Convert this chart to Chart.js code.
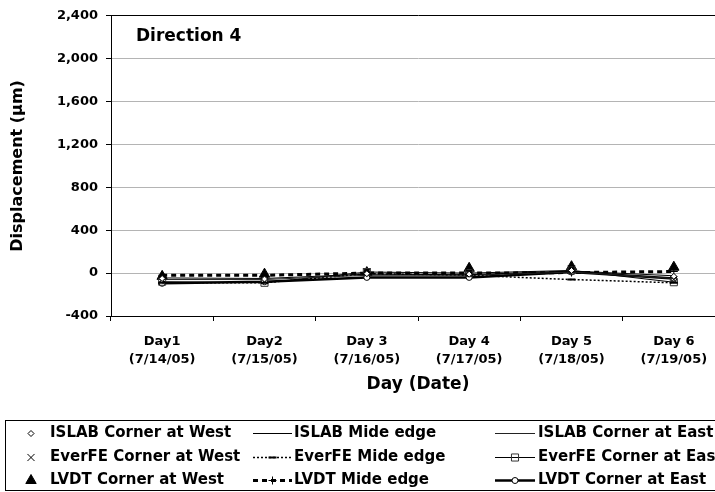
<!DOCTYPE html>
<html>
<head>
<meta charset="utf-8">
<script src="https://cdn.jsdelivr.net/npm/chart.js@4.4.1/dist/chart.umd.min.js"></script>
<style>
  html, body { margin: 0; padding: 0; background: #fff; overflow: hidden; }
  #wrap { width: 745px; height: 492px; }
</style>
</head>
<body>
<div id="wrap"><canvas id="dispChart" width="745" height="492"></canvas></div>
<script>
// categories
const days = [
    ["Day1", "(7/14/05)"],
    ["Day2", "(7/15/05)"],
    ["Day 3", "(7/16/05)"],
    ["Day 4", "(7/17/05)"],
    ["Day 5", "(7/18/05)"],
    ["Day 6", "(7/19/05)"]
];

// displacement in micrometres
const islabWest  = [-50, -55, -5, -10, 25, -30];
const islabMid   = [-45, -50, -10, -15, 20, -25];
const islabEast  = [-60, -60, -20, -20, 10, -50];
const everfeWest = [-65, -70, 10, 5, 40, -60];
const everfeMid  = [-90, -90, -5, -20, -60, -90];
const everfeEast = [-80, -90, 10, 0, 25, -85];
const lvdtWest   = [-30, -10, 5, 45, 60, 55];
const lvdtMid    = [-20, -20, 0, 0, 5, 15];
const lvdtEast   = [-95, -80, -40, -40, 10, -50];

const yTicks = [-400, 0, 400, 800, 1200, 1600, 2000, 2400];

const FONT = '"DejaVu Sans", "Liberation Sans", Arial, sans-serif';
Chart.defaults.font.family = FONT;
Chart.defaults.font.weight = 'bold';
Chart.defaults.color = '#000';

// legend: 3 rows (ISLAB, EverFE, LVDT) x 3 columns (West, Mide edge, East)
const legendRows = [433, 457, 480];
const legendCols = [
    { marker: 31, text: 50 },
    { lineFrom: 253, lineTo: 292, text: 294 },
    { lineFrom: 495, lineTo: 535, text: 538 }
];

const boxLegend = {
    id: 'boxLegend',
    afterDraw(chart) {
        const ctx = chart.ctx;
        ctx.save();
        ctx.strokeStyle = '#000';
        ctx.lineWidth = 1;
        ctx.strokeRect(5.5, 420.5, 760, 70);

        // "Direction 4" label inside the plot
        ctx.font = 'bold 17px ' + FONT;
        ctx.fillStyle = '#000';
        ctx.textAlign = 'left';
        ctx.textBaseline = 'middle';
        ctx.fillText('Direction 4', 136, 37);

        chart.data.datasets.forEach((ds, i) => {
            const y = legendRows[Math.floor(i / 3)];
            const col = legendCols[i % 3];
            let mx = col.marker;
            if (col.lineFrom !== undefined) {
                ctx.save();
                ctx.strokeStyle = ds.borderColor;
                ctx.lineWidth = ds.borderWidth;
                ctx.setLineDash(ds.borderDash || []);
                ctx.beginPath();
                ctx.moveTo(col.lineFrom, y + 0.5);
                ctx.lineTo(col.lineTo, y + 0.5);
                ctx.stroke();
                ctx.restore();
                mx = (col.lineFrom + col.lineTo) / 2;
            }
            if (ds.pointRadius > 0) {
                ctx.save();
                ctx.setLineDash([]);
                ctx.fillStyle = ds.pointBackgroundColor;
                ctx.strokeStyle = ds.pointBorderColor;
                ctx.lineWidth = ds.pointBorderWidth;
                Chart.helpers.drawPoint(ctx, {
                    pointStyle: ds.pointStyle,
                    radius: ds.pointRadius,
                    rotation: 0,
                    borderWidth: ds.pointBorderWidth
                }, mx, y + 0.5);
                ctx.restore();
            }
            ctx.font = 'bold 15px ' + FONT;
            ctx.fillStyle = '#000';
            ctx.fillText(ds.label, col.text, y);
        });
        ctx.restore();
    }
};

function series(label, data, style) {
    return Object.assign({
        label: label,
        data: data,
        borderColor: '#000',
        backgroundColor: '#000',
        borderWidth: 1,
        pointBorderColor: '#000',
        pointBackgroundColor: '#000',
        pointBorderWidth: 1,
        pointRadius: 0,
        pointStyle: 'circle',
        tension: 0,
        fill: false
    }, style);
}

const datasets = [
    series('ISLAB Corner at West', islabWest, { showLine: false, pointStyle: 'rectRot', pointRadius: 3, pointBackgroundColor: '#fff' }),
    series('ISLAB Mide edge', islabMid, { borderWidth: 1 }),
    series('ISLAB Corner at East', islabEast, { borderWidth: 1, borderColor: '#222' }),
    series('EverFE Corner at West', everfeWest, { showLine: false, pointStyle: 'crossRot', pointRadius: 5 }),
    series('EverFE Mide edge', everfeMid, { borderWidth: 1.5, borderDash: [2, 2], pointStyle: 'line', pointRadius: 4, pointBorderWidth: 2 }),
    series('EverFE Corner at East', everfeEast, { borderWidth: 1, pointStyle: 'rect', pointRadius: 5, pointBorderColor: '#333', pointBackgroundColor: 'rgba(0,0,0,0)' }),
    series('LVDT Corner at West', lvdtWest, { showLine: false, pointStyle: 'triangle', pointRadius: 6 }),
    series('LVDT Mide edge', lvdtMid, { borderWidth: 3, borderDash: [5, 4], pointStyle: 'cross', pointRadius: 4 }),
    series('LVDT Corner at East', lvdtEast, { borderWidth: 2.5, pointStyle: 'circle', pointRadius: 3, pointBackgroundColor: '#fff' })
];

const ctx = document.getElementById('dispChart').getContext('2d');
new Chart(ctx, {
    type: 'line',
    data: { labels: days, datasets: datasets },
    plugins: [boxLegend],
    options: {
        responsive: false,
        animation: false,
        layout: { padding: { top: 15, right: 20, bottom: 0, left: 0 } },
        plugins: {
            legend: { display: false },
            tooltip: { enabled: false }
        },
        scales: {
            x: {
                offset: true,
                afterFit: s => { s.height = 176; },
                border: { color: '#000', width: 1 },
                grid: {
                    offset: true,
                    drawOnChartArea: false,
                    tickLength: 5,
                    tickColor: '#000'
                },
                ticks: {
                    padding: 12,
                    maxRotation: 0,
                    autoSkip: false,
                    font: { size: 13, weight: 'bold', lineHeight: 1.35 }
                },
                title: {
                    display: true,
                    text: 'Day (Date)',
                    font: { size: 17, weight: 'bold' },
                    padding: { top: 0, bottom: 97 }
                }
            },
            y: {
                min: -400,
                max: 2400,
                afterFit: s => { s.width = 111; },
                afterBuildTicks: s => { s.ticks = yTicks.map(v => ({ value: v })); },
                border: { color: '#000', width: 1 },
                grid: {
                    color: c => (c.tick && c.tick.value === 2400) ? '#000' : '#b4b4b4',
                    tickLength: 5,
                    tickColor: '#000'
                },
                ticks: {
                    padding: 8,
                    font: { size: 13, weight: 'bold' },
                    callback: v => v.toLocaleString('en-US')
                },
                title: {
                    display: true,
                    text: 'Displacement (μm)',
                    font: { size: 16, weight: 'bold' },
                    padding: { top: 8, bottom: 0 }
                }
            }
        }
    }
});
</script>
</body>
</html>
